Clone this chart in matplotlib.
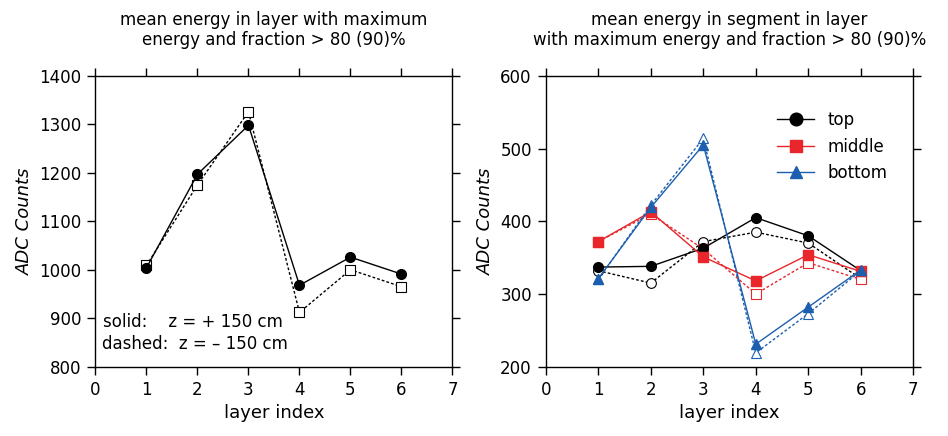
import numpy as np
import matplotlib
matplotlib.use("Agg")
import matplotlib.pyplot as plt

plt.rcParams['font.family'] = ['DejaVu Sans']

layers = [1, 2, 3, 4, 5, 6]

# left panel: layer with maximum energy
solid_left = [1004, 1197, 1298, 968, 1026, 991]
dashed_left = [1009, 1175, 1326, 912, 1000, 965]

# right panel: segments (solid z=+150, dashed z=-150)
top_solid = [337, 338, 363, 405, 380, 332]
top_dashed = [332, 315, 372, 385, 370, 321]
mid_solid = [372, 413, 351, 318, 354, 331]
mid_dashed = [372, 410, 362, 300, 343, 320]
bot_solid = [321, 419, 505, 231, 282, 333]
bot_dashed = [320, 422, 514, 219, 273, 332]

red = '#e8262b'
blue = '#1c5fae'
dots = (0, (2, 1.5))

fig = plt.figure(figsize=(9.48, 4.36), dpi=100)
ax1 = fig.add_axes([0.1007, 0.159, 0.3766, 0.667])
ax2 = fig.add_axes([0.5757, 0.159, 0.3877, 0.667])


def style_axes(ax, ylim, yticks):
    ax.set_xlim(0, 7)
    ax.set_xticks(range(0, 8))
    ax.set_ylim(*ylim)
    ax.set_yticks(yticks)
    ax.tick_params(direction='out', length=6, width=1, top=True, right=True,
                   labelsize=12, pad=4)
    for s in ax.spines.values():
        s.set_linewidth(1)
    ax.set_xlabel('layer index', fontsize=13)
    ax.set_ylabel('ADC Counts', fontsize=13, style='italic')


# left
ax1.plot(layers, dashed_left, linestyle=dots, color='black', lw=1, marker='s', ms=7,
         mfc='white', mec='black', mew=0.8)
ax1.plot(layers, solid_left, '-', color='black', lw=1, marker='o', ms=7)
style_axes(ax1, (800, 1400), range(800, 1401, 100))
ax1.set_title('mean energy in layer with maximum\nenergy and fraction > 80 (90)%',
              fontsize=12, pad=22)
ax1.text(0.15, 893, 'solid:    z = + 150 cm', fontsize=12, va='center')
ax1.text(0.12, 846, 'dashed:  z = \u2013 150 cm', fontsize=12, va='center')

# right
ax2.plot(layers, top_dashed, linestyle=dots, color='black', lw=1, marker='o', ms=7,
         mfc='white', mec='black', mew=0.8)
ax2.plot(layers, mid_dashed, linestyle=dots, color=red, lw=1, marker='s', ms=7,
         mfc='white', mec=red, mew=0.8)
ax2.plot(layers, bot_dashed, linestyle=dots, color=blue, lw=1, marker='^', ms=7,
         mfc='white', mec=blue, mew=0.8)
l1, = ax2.plot(layers, top_solid, '-', color='black', lw=1, marker='o', ms=7)
l2, = ax2.plot(layers, mid_solid, '-', color=red, lw=1, marker='s', ms=7)
l3, = ax2.plot(layers, bot_solid, '-', color=blue, lw=1, marker='^', ms=7)
style_axes(ax2, (200, 600), range(200, 601, 100))
ax2.set_title('mean energy in segment in layer\nwith maximum energy and fraction > 80 (90)%',
              fontsize=12, pad=22)
leg = ax2.legend([l1, l2, l3], ['top', 'middle', 'bottom'], loc='upper right',
                 bbox_to_anchor=(0.97, 0.93), frameon=False, fontsize=12,
                 handlelength=2.2, markerscale=1.3, labelspacing=0.5)

fig.savefig('out.png', dpi=100)
